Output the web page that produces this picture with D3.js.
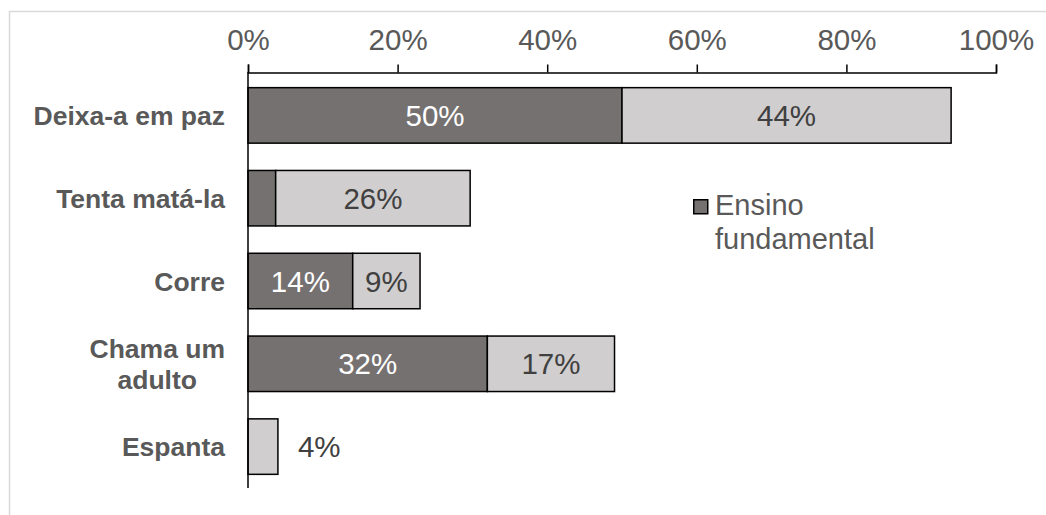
<!DOCTYPE html>
<html>
<head>
<meta charset="utf-8">
<script src="https://cdn.jsdelivr.net/npm/d3@7/dist/d3.min.js"></script>
<style>
  html, body { margin: 0; padding: 0; background: #fff; }
  svg { display: block; font-family: Arial, "Liberation Sans", sans-serif; }
</style>
</head>
<body>
<svg id="chart" width="1046" height="515"></svg>
<script>
// Reactions, share of answers per school level
const categories = ["Deixa-a em paz", "Tenta matá-la", "Corre", "Chama um adulto", "Espanta"];
const fundamental = [50, 3.7, 14, 32, 0];
const medio = [44, 26, 9, 17, 4];
const seriesNames = ["Ensino fundamental", "Ensino médio"];
const tickValues = [0, 20, 40, 60, 80, 100];

const colors = ["#767171", "#d0cece"];
const labelColors = ["#ffffff", "#404040"];

const svg = d3.select("#chart");
const W = 1046, H = 515;

// outer chart frame
svg.append("rect")
  .attr("x", 9.5).attr("y", 11.5)
  .attr("width", W + 20).attr("height", H + 20)
  .attr("fill", "#fff")
  .attr("stroke", "#d9d9d9")
  .attr("stroke-width", 1.5);

const x = d3.scaleLinear().domain([0, 100]).range([248, 996]);
const y = d3.scaleBand().domain(categories).range([74, 488]).paddingInner(0.33).paddingOuter(0.165);

const rows = categories.map((c, i) => ({ cat: c, values: [fundamental[i], medio[i]] }));

// top axis
const axis = d3.axisTop(x)
  .tickValues(tickValues)
  .tickFormat(d => d + "%")
  .tickSizeInner(8).tickSizeOuter(8).tickPadding(15);

const gx = svg.append("g").attr("transform", "translate(0,72.5)").call(axis);
gx.select(".domain").attr("stroke", "#000").attr("stroke-width", 1.5);
gx.selectAll(".tick line").attr("stroke", "#000").attr("stroke-width", 1.5);
gx.selectAll(".tick text")
  .attr("font-size", 29.5).attr("fill", "#595959")
  .attr("font-family", "Arial, 'Liberation Sans', sans-serif");

// stacked bars with value labels
rows.forEach(r => {
  let acc = 0;
  r.values.forEach((v, s) => {
    const x0 = acc, x1 = acc + v;
    acc = x1;
    if (v <= 0) return;
    svg.append("rect")
      .attr("x", x(x0)).attr("y", y(r.cat))
      .attr("width", x(x1) - x(x0)).attr("height", y.bandwidth())
      .attr("fill", colors[s]).attr("stroke", "#000").attr("stroke-width", 1.5);
    const w = x(x1) - x(x0);
    const isLast = s === r.values.length - 1;
    const cy = y(r.cat) + y.bandwidth() / 2;
    if (w >= 50) {
      svg.append("text")
        .attr("x", (x(x0) + x(x1)) / 2).attr("y", cy).attr("dy", "0.36em")
        .attr("text-anchor", "middle").attr("font-size", 29.5)
        .attr("fill", labelColors[s])
        .text(Math.round(v) + "%");
    } else if (isLast) {
      svg.append("text")
        .attr("x", x(x1) + 20).attr("y", cy).attr("dy", "0.36em")
        .attr("text-anchor", "start").attr("font-size", 29.5)
        .attr("fill", labelColors[s])
        .text(Math.round(v) + "%");
    }
  });
});

// vertical category axis line
svg.append("line")
  .attr("x1", x(0)).attr("x2", x(0))
  .attr("y1", 72).attr("y2", 488)
  .attr("stroke", "#000").attr("stroke-width", 1.5);

// category labels, wrapped and centred as a right-aligned block
const catSize = 26.5, maxLabelW = 205, labelRight = 225, lineH = 31;
categories.forEach(c => {
  const words = c.split(" ");
  const probe = svg.append("text").attr("font-size", catSize).attr("font-weight", "bold");
  const lines = [];
  let cur = "";
  words.forEach(wd => {
    const t = cur ? cur + " " + wd : wd;
    probe.text(t);
    if (probe.node().getComputedTextLength() > maxLabelW && cur) { lines.push(cur); cur = wd; }
    else cur = t;
  });
  lines.push(cur);
  let bw = 0;
  lines.forEach(l => { probe.text(l); bw = Math.max(bw, probe.node().getComputedTextLength()); });
  probe.remove();
  const cy = y(c) + y.bandwidth() / 2;
  const cx = labelRight - bw / 2;
  const top = cy - (lines.length - 1) * lineH / 2;
  const t = svg.append("text")
    .attr("font-size", catSize).attr("font-weight", "bold").attr("fill", "#595959")
    .attr("text-anchor", "middle");
  lines.forEach((l, i) => {
    t.append("tspan").attr("x", cx).attr("y", top + i * lineH).attr("dy", "0.36em").text(l);
  });
});

// legend
const lg = svg.append("g").attr("transform", "translate(693,199)");
lg.append("rect").attr("x", 0.75).attr("y", 0.75).attr("width", 14).attr("height", 14)
  .attr("fill", colors[0]).attr("stroke", "#000").attr("stroke-width", 1.5);
const lt = lg.append("text").attr("font-size", 29).attr("fill", "#595959");
["Ensino", "fundamental"].forEach((l, i) => {
  lt.append("tspan").attr("x", 22).attr("y", 16 + i * 34).text(l);
});
</script>
</body>
</html>
